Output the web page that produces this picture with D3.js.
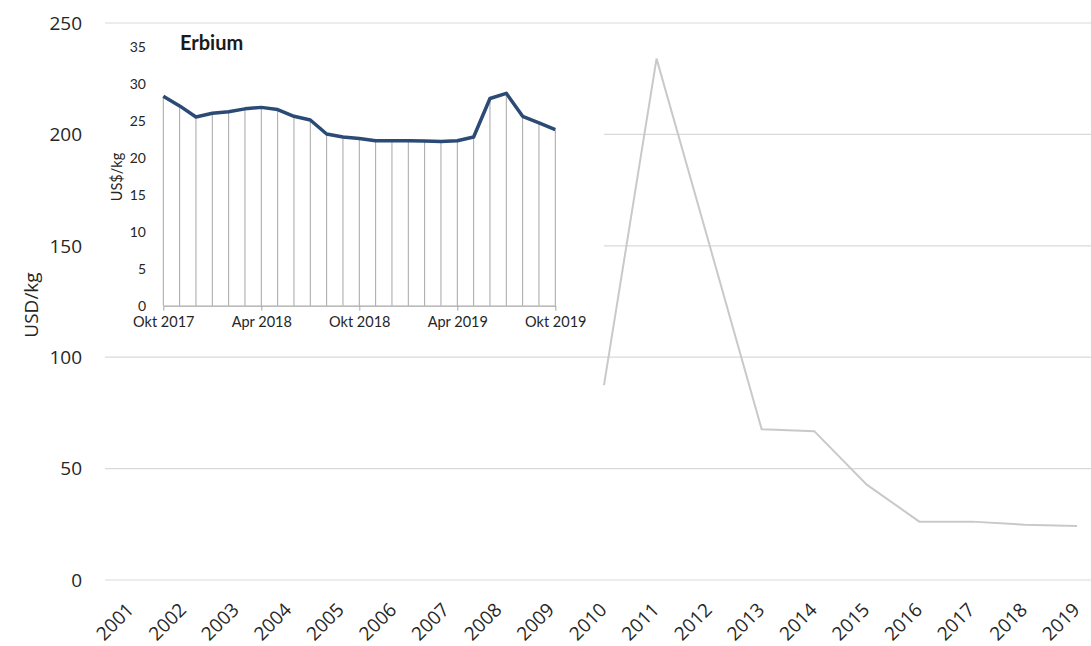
<!DOCTYPE html>
<html>
<head>
<meta charset="utf-8">
<script src="https://cdn.jsdelivr.net/npm/d3@7"></script>
<style>
  body { margin: 0; background: #fff; }
  svg { display: block; }
</style>
</head>
<body>
<script>
// main series: yearly Erbium price, USD/kg (no data before 2010)
const years = ["2001","2002","2003","2004","2005","2006","2007","2008","2009","2010",
               "2011","2012","2013","2014","2015","2016","2017","2018","2019"];
const prices = [null,null,null,null,null,null,null,null,null,87.5,
                234,151,67.7,66.8,42.8,26.2,26.2,24.8,24.2];
const yTicks = [0, 50, 100, 150, 200, 250];

// inset: monthly price Okt 2017 - Okt 2019, US$/kg
const months = ["Okt 2017","Nov 2017","Dec 2017","Jan 2018","Feb 2018","Mar 2018","Apr 2018",
                "Maj 2018","Jun 2018","Jul 2018","Aug 2018","Sep 2018","Okt 2018","Nov 2018",
                "Dec 2018","Jan 2019","Feb 2019","Mar 2019","Apr 2019","Maj 2019","Jun 2019",
                "Jul 2019","Aug 2019","Sep 2019","Okt 2019"];
const monthly = [28.3,27.0,25.5,26.0,26.2,26.6,26.8,26.5,25.6,25.1,23.2,22.8,22.6,
                 22.3,22.3,22.3,22.25,22.2,22.3,22.8,28.0,28.7,25.6,24.7,23.8];
const monthTicks = ["Okt 2017","Apr 2018","Okt 2018","Apr 2019","Okt 2019"];
const insetTicks = [0,5,10,15,20,25,30,35];

const width = 1091, height = 646;

const svg = d3.select("body").append("svg")
  .attr("width", width)
  .attr("height", height)
  .style("font-family", "'Open Sans', sans-serif");

const x = d3.scalePoint().domain(years).range([131, 1077]);
const y = d3.scaleLinear().domain([0, 250]).range([580, 23]);

// gridlines
svg.append("g")
  .selectAll("line")
  .data(yTicks)
  .enter().append("line")
  .attr("x1", 105)
  .attr("x2", width)
  .attr("y1", d => y(d))
  .attr("y2", d => y(d))
  .attr("stroke", "#d9d9d9")
  .attr("stroke-width", 1.2);

// y tick labels
svg.append("g")
  .selectAll("text")
  .data(yTicks)
  .enter().append("text")
  .attr("x", 82)
  .attr("y", d => y(d))
  .attr("dy", "0.36em")
  .attr("text-anchor", "end")
  .attr("font-size", 19)
  .attr("fill", "#262626")
  .text(d => d);

svg.append("text")
  .attr("transform", "translate(38,305) rotate(-90)")
  .attr("text-anchor", "middle")
  .attr("font-size", 19)
  .attr("fill", "#262626")
  .text("USD/kg");

// x labels, rotated
svg.append("g")
  .selectAll("text")
  .data(years)
  .enter().append("text")
  .attr("transform", d => "translate(" + (x(d) + 4) + ",611) rotate(-45)")
  .attr("text-anchor", "end")
  .attr("font-size", 19)
  .attr("fill", "#262626")
  .text(d => d);

// main line
const line = d3.line()
  .defined(d => d[1] != null)
  .x(d => x(d[0]))
  .y(d => y(d[1]));

svg.append("path")
  .datum(years.map((yr, i) => [yr, prices[i]]))
  .attr("d", line)
  .attr("fill", "none")
  .attr("stroke", "#c9c9c9")
  .attr("stroke-width", 2);

// ---- inset chart ----
const inset = svg.append("g").style("font-family", "Lato, 'Open Sans', sans-serif");

inset.append("rect")
  .attr("x", 104)
  .attr("y", 28)
  .attr("width", 500)
  .attr("height", 318)
  .attr("fill", "#fff");

const ix = d3.scalePoint().domain(months).range([163.3, 555.3]);
const iy = d3.scaleLinear().domain([0, 35]).range([305.7, 46.7]);

// drop lines
inset.append("g")
  .selectAll("line")
  .data(months)
  .enter().append("line")
  .attr("x1", d => ix(d))
  .attr("x2", d => ix(d))
  .attr("y1", (d, i) => iy(monthly[i]))
  .attr("y2", iy(0))
  .attr("stroke", "#a6a6a6")
  .attr("stroke-width", 1);

// axis
const xAxis = d3.axisBottom(ix).tickValues(monthTicks).tickSize(5).tickSizeOuter(0);
const gx = inset.append("g")
  .attr("transform", "translate(0," + iy(0) + ")")
  .call(xAxis);
gx.select(".domain").attr("stroke", "#a6a6a6").attr("stroke-width", 1.2);
gx.selectAll(".tick line").attr("stroke", "#a6a6a6");
gx.selectAll(".tick text")
  .attr("font-size", 14.5)
  .attr("font-family", "Lato, sans-serif")
  .attr("fill", "#262626")
  .attr("dy", "0.95em");

inset.append("g")
  .selectAll("text")
  .data(insetTicks)
  .enter().append("text")
  .attr("x", 146)
  .attr("y", d => iy(d))
  .attr("dy", "0.35em")
  .attr("text-anchor", "end")
  .attr("font-size", 14)
  .attr("fill", "#262626")
  .text(d => d);

inset.append("text")
  .attr("transform", "translate(122,177) rotate(-90)")
  .attr("text-anchor", "middle")
  .attr("font-size", 14.5)
  .attr("fill", "#262626")
  .text("US$/kg");

inset.append("text")
  .attr("x", 180)
  .attr("y", 50)
  .attr("font-size", 20)
  .attr("font-weight", "bold")
  .attr("fill", "#1a1a1a")
  .text("Erbium");

inset.append("path")
  .datum(monthly)
  .attr("d", d3.line().x((d, i) => ix(months[i])).y(d => iy(d)))
  .attr("fill", "none")
  .attr("stroke", "#2b4a75")
  .attr("stroke-width", 3.5)
  .attr("stroke-linejoin", "round");
</script>
</body>
</html>
